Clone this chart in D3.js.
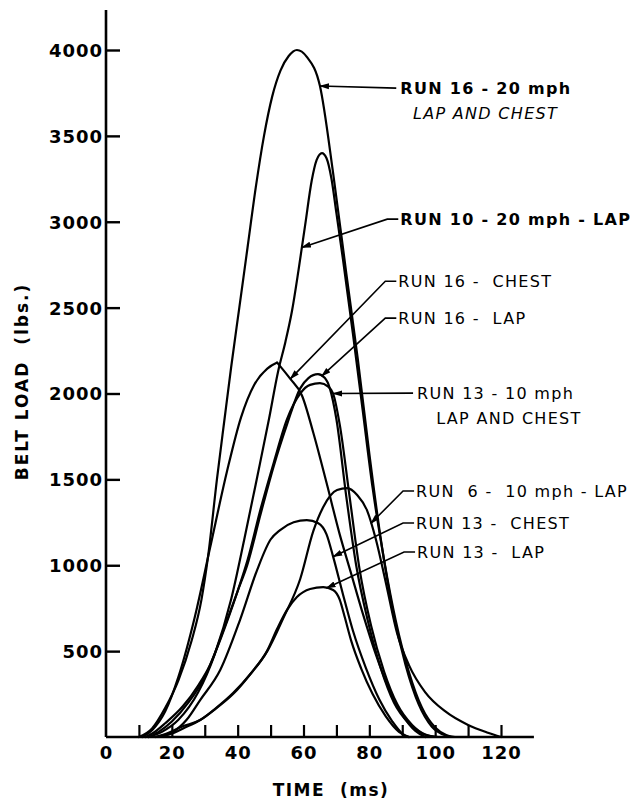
<!DOCTYPE html>
<html>
<head>
<meta charset="utf-8">
<script src="https://cdn.jsdelivr.net/npm/d3@7/dist/d3.min.js"></script>
<style>
  body { margin: 0; background: #fff; }
  svg text { font-family: "DejaVu Sans", sans-serif; fill: #000; white-space: pre; }
</style>
</head>
<body>
<div id="chart"></div>
<script>
// tick values
const timeTicks = [0, 10, 20, 30, 40, 50, 60, 70, 80, 90, 100, 110, 120];
const timeLabels = [0, 20, 40, 60, 80, 100, 120];
const loadTicks = [500, 1000, 1500, 2000, 2500, 3000, 3500, 4000];

// belt load curves, [time ms, load lbs]
const run16Both = [[10,0],[14,50],[18,170],[22,330],[26,560],[29,800],[31,1050],[33.7,1500],[36,1850],[38,2150],[40.5,2500],[43,2850],[45.5,3200],[48,3500],[50.5,3730],[53,3880],[55.5,3965],[58,4000],[61,3960],[65,3790],[69,3283],[73,2700],[76.5,2200],[80,1650],[83.5,1150],[87,750],[91,420],[95,190],[99,60],[103,10],[105,0]];
const run10Lap = [[13,0],[17,30],[22,100],[28,260],[33,480],[38,800],[42,1150],[46,1520],[49.5,1850],[52.3,2130],[54.5,2300],[56.5,2480],[58.5,2720],[60.5,2980],[62.5,3240],[64,3360],[65.6,3400],[67,3370],[68.5,3250],[70,3050],[72,2780],[75,2350],[78,1900],[81,1450],[84.5,1030],[88,680],[92,380],[96,170],[100,55],[103.5,10],[106,0]];
const run16Chest = [[11,0],[14,40],[18,150],[22,350],[27,700],[31.6,1100],[36.8,1550],[41,1860],[45,2050],[49,2145],[52,2180],[56,2085],[59.5,1990],[63,1770],[67,1480],[71,1180],[74.5,950],[78,720],[82,480],[86,280],[90,130],[94,35],[97,0]];
const run16Lap = [[12,0],[14.3,23],[18,80],[23.4,180],[28,300],[31.6,420],[36,640],[40,850],[42.9,1000],[47,1300],[51,1580],[55,1820],[59,2030],[61.5,2090],[64.4,2113],[66.5,2090],[68,2030],[70,1850],[73,1400],[76,1000],[79.5,680],[83.5,400],[87.5,200],[92,80],[96,20],[100,0]];
const run13Both = [[13,0],[16,30],[20,90],[25,200],[30,350],[35,580],[40,850],[43,1030],[47,1330],[51,1600],[55,1850],[59,2000],[62,2050],[65,2060],[67.5,2040],[69,2000],[71,1820],[74,1400],[77,980],[80.5,650],[84.5,380],[88.5,190],[93,70],[97,15],[101,0]];
const run6Lap = [[15,0],[19,25],[23,60],[28.6,99],[33.5,170],[38.6,256],[44,370],[49,500],[53.8,690],[59,920],[63,1200],[66,1339],[70.2,1438],[73.3,1449],[76.3,1409],[79.3,1320],[82,1150],[85,900],[88.5,600],[92,420],[97,260],[103,150],[110,70],[116,25],[120,0]];
const run13Chest = [[16,0],[20,25],[24.5,100],[28.6,215],[34.7,390],[40.7,681],[45.9,972],[50,1150],[52.9,1205],[57,1250],[61,1263],[64.5,1245],[67,1180],[69,1050],[72,830],[75,620],[79,400],[83,220],[87,90],[90,20],[92,0]];
const run13Lap = [[15,0],[20,20],[24,55],[28.6,99],[33,160],[38.6,250],[44,370],[48.9,500],[52,630],[55,740],[58,815],[62,862],[66,873],[69,856],[71,800],[72.5,700],[74.5,560],[77.5,400],[81,250],[85,120],[89,30],[92,0]];

const seriesList = [
  { data: run16Both },
  { data: run10Lap },
  { data: run16Chest, sharpPeak: true },
  { data: run16Lap },
  { data: run13Both },
  { data: run6Lap },
  { data: run13Chest },
  { data: run13Lap }
];

// labels: text lines, label position (time, load), arrow tip time on its curve, dog-leg
const notes = [
  { lines: ["RUN 16 - 20 mph", "  LAP AND CHEST"], styles: ["bold", "italic"], at: [89.4, 3778], curve: run16Both, tip: 65, bend: false },
  { lines: ["RUN 10 - 20 mph - LAP"], styles: ["bold"], at: [89.4, 3015], curve: run10Lap, tip: 59.5, bend: true },
  { lines: ["RUN 16 -  CHEST"], styles: ["normal"], at: [88.8, 2654], curve: run16Chest, tip: 56, bend: true },
  { lines: ["RUN 16 -  LAP"], styles: ["normal"], at: [88.8, 2439], curve: run16Lap, tip: 65.5, bend: true },
  { lines: ["RUN 13 - 10 mph", "   LAP AND CHEST"], styles: ["normal", "normal"], at: [94.5, 2002], curve: run13Both, tip: 69, bend: false },
  { lines: ["RUN  6 -  10 mph - LAP"], styles: ["normal"], at: [94.2, 1432], curve: run6Lap, tip: 80.5, bend: true },
  { lines: ["RUN 13 -  CHEST"], styles: ["normal"], at: [94.2, 1246], curve: run13Chest, tip: 69, bend: true },
  { lines: ["RUN 13 -  LAP"], styles: ["normal"], at: [94.5, 1077], curve: run13Lap, tip: 67, bend: true }
];

const width = 643, height = 803;
const svg = d3.select("#chart").append("svg")
  .attr("width", width)
  .attr("height", height);

const x = d3.scaleLinear().domain([0, 120]).range([106, 501]);
const y = d3.scaleLinear().domain([0, 4000]).range([737, 50]);

// arrow head
svg.append("defs").append("marker")
  .attr("id", "arrow")
  .attr("viewBox", "0 -4 10 8")
  .attr("refX", 9)
  .attr("refY", 0)
  .attr("markerUnits", "userSpaceOnUse")
  .attr("markerWidth", 10)
  .attr("markerHeight", 8)
  .attr("orient", "auto")
  .append("path")
  .attr("d", "M0,-3L10,0L0,3Z")
  .attr("fill", "#000");

// axes lines
svg.append("line")
  .attr("x1", x(0)).attr("x2", x(0))
  .attr("y1", y(0)).attr("y2", 10)
  .attr("stroke", "#000").attr("stroke-width", 2.6);
svg.append("line")
  .attr("x1", x(0)).attr("x2", x(130))
  .attr("y1", y(0)).attr("y2", y(0))
  .attr("stroke", "#000").attr("stroke-width", 2.6);

// y ticks (pointing inside) with labels
const yAxis = svg.append("g")
  .attr("transform", `translate(${x(0)},0)`)
  .call(d3.axisLeft(y).tickValues(loadTicks).tickSize(-14).tickFormat(d3.format("d")));
yAxis.select(".domain").remove();
yAxis.selectAll(".tick line").attr("stroke", "#000").attr("stroke-width", 2.4);
yAxis.selectAll(".tick text")
  .attr("font-family", "DejaVu Sans")
  .attr("font-size", 18)
  .attr("font-weight", "bold")
  .attr("letter-spacing", 1)
  .attr("dy", "0.36em")
  .attr("x", -3);

// x ticks (pointing up) with labels every 20
const xAxis = svg.append("g")
  .attr("transform", `translate(0,${y(0)})`)
  .call(d3.axisBottom(x).tickValues(timeTicks).tickSize(-12)
    .tickFormat(d => timeLabels.includes(d) ? d : ""));
xAxis.select(".domain").remove();
xAxis.selectAll(".tick line").attr("stroke", "#000").attr("stroke-width", 2.2)
  .attr("opacity", d => d === 0 ? 0 : 1);
xAxis.selectAll(".tick text")
  .attr("font-family", "DejaVu Sans")
  .attr("font-size", 18)
  .attr("font-weight", "bold")
  .attr("letter-spacing", 1)
  .attr("y", 9)
  .attr("dy", "0.71em");

// axis titles
svg.append("text")
  .attr("transform", `translate(28,${(y(0) + 10) / 2 + 8}) rotate(-90)`)
  .attr("text-anchor", "middle")
  .attr("font-size", 17)
  .attr("font-weight", "bold")
  .attr("letter-spacing", 2)
  .text("BELT LOAD  (lbs.)");

svg.append("text")
  .attr("x", 331)
  .attr("y", 796)
  .attr("text-anchor", "middle")
  .attr("font-size", 17)
  .attr("font-weight", "bold")
  .attr("letter-spacing", 1.5)
  .text("TIME  (ms)");

// curves
const line = d3.line()
  .x(d => x(d[0]))
  .y(d => y(d[1]))
  .curve(d3.curveMonotoneX);

// a pointed peak is drawn as two pieces meeting at the maximum
const pieces = [];
seriesList.forEach(s => {
  if (s.sharpPeak) {
    const k = d3.maxIndex(s.data, d => d[1]);
    pieces.push(s.data.slice(0, k + 1), s.data.slice(k));
  } else {
    pieces.push(s.data);
  }
});

svg.append("g")
  .selectAll("path")
  .data(pieces)
  .enter()
  .append("path")
  .attr("d", line)
  .attr("fill", "none")
  .attr("stroke", "#000")
  .attr("stroke-width", 2.2)
  .attr("stroke-linejoin", "round")
  .attr("stroke-linecap", "round");

// value of a curve at time t (linear between read points)
const valueAt = (curve, t) => {
  for (let i = 1; i < curve.length; i++) {
    if (curve[i][0] >= t) {
      const [t0, v0] = curve[i - 1], [t1, v1] = curve[i];
      return v0 + (v1 - v0) * (t - t0) / (t1 - t0);
    }
  }
  return 0;
};

// leaders and label texts
const noteG = svg.append("g");
notes.forEach(n => {
  const lx = x(n.at[0]), ly = y(n.at[1]);
  const tx = x(n.tip), ty = y(valueAt(n.curve, n.tip));
  const pts = n.bend
    ? [[lx - 2, ly], [lx - 13, ly], [tx, ty]]
    : [[lx - 4, ly], [tx, ty]];
  noteG.append("path")
    .attr("d", d3.line()(pts))
    .attr("fill", "none")
    .attr("stroke", "#000")
    .attr("stroke-width", 1.6)
    .attr("marker-end", "url(#arrow)");

  n.lines.forEach((s, i) => {
    noteG.append("text")
      .attr("x", lx)
      .attr("y", ly + i * 25)
      .attr("dy", "0.36em")
      .attr("font-size", 16)
      .attr("letter-spacing", 1.3)
      .attr("font-weight", n.styles[i] === "bold" ? "bold" : "normal")
      .attr("font-style", n.styles[i] === "italic" ? "italic" : "normal")
      .text(s);
  });
});
</script>
</body>
</html>
